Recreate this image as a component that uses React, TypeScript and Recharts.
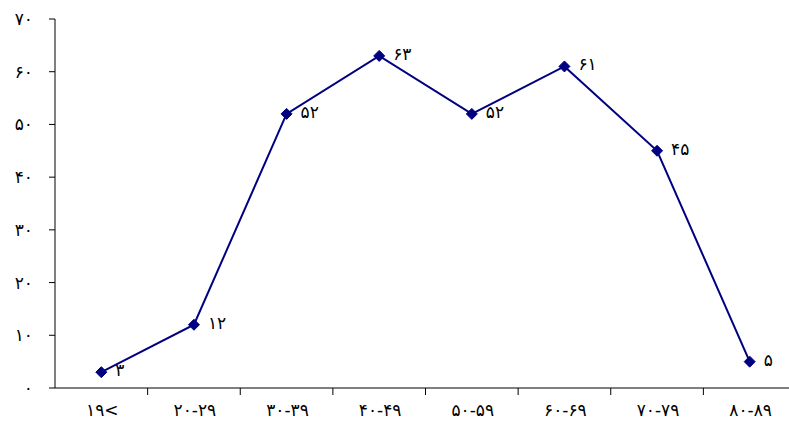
import React from "react";
import { LineChart, Line, XAxis, YAxis, LabelList } from "recharts";

const categories = ["۱۹<", "۲۰-۲۹", "۳۰-۳۹", "۴۰-۴۹", "۵۰-۵۹", "۶۰-۶۹", "۷۰-۷۹", "۸۰-۸۹"];
const values = [3, 12, 52, 63, 52, 61, 45, 5];
const yTicks = [0, 10, 20, 30, 40, 50, 60, 70];

const data = categories.map((c, i) => ({ name: c, value: values[i] }));

const toFa = (n: number | string) =>
  String(n).replace(/[0-9]/g, (d) => String.fromCharCode(0x06f0 + Number(d)));

const FONT = "'DejaVu Sans', sans-serif";
const FS = 17;
const WIDTH = 789;
const HEIGHT = 425;
const LEFT = 55;
const RIGHT = -7;
const BAND = (WIDTH - LEFT - RIGHT) / categories.length;
const X_TICK_SIZE = 7;
const X_TICK_MARGIN = 9;

const XTick = (props: any) => {
  const { x, y, payload } = props;
  const axisY = y - X_TICK_SIZE - X_TICK_MARGIN;
  const lx = x + BAND / 2;
  return (
    <g>
      <line x1={lx} x2={lx} y1={axisY} y2={axisY + X_TICK_SIZE} stroke="#000" strokeWidth={1} />
      <text
        x={x + 1}
        y={y}
        dy="0.71em"
        textAnchor="middle"
        fontSize={FS}
        fontFamily={FONT}
        letterSpacing={2}
        fill="#000"
      >
        {payload.value}
      </text>
    </g>
  );
};

const Diamond = (props: any) => {
  const { cx, cy } = props;
  if (cx == null || cy == null) return null;
  const r = 5.5;
  return (
    <path
      d={`M${cx},${cy - r}L${cx + r},${cy}L${cx},${cy + r}L${cx - r},${cy}Z`}
      fill="#000080"
      stroke="#000080"
    />
  );
};

const PointLabel = (props: any) => {
  const { x, y, value } = props;
  return (
    <text
      x={x + 14}
      y={y - 2}
      dy="0.35em"
      textAnchor="start"
      fontSize={FS}
      fontFamily={FONT}
      letterSpacing={2}
      fill="#000"
    >
      {toFa(value)}
    </text>
  );
};

export default function App() {
  return (
    <div style={{ position: "absolute", left: 0, top: 0, background: "#fff" }}>
      <LineChart
        width={WIDTH}
        height={HEIGHT}
        data={data}
        margin={{ top: 19, right: RIGHT, bottom: 7, left: 0 }}
      >
        <XAxis
          dataKey="name"
          height={30}
          padding={{ left: BAND / 2, right: BAND / 2 }}
          tickLine={false}
          tickSize={X_TICK_SIZE}
          tickMargin={X_TICK_MARGIN}
          tick={<XTick />}
          axisLine={{ stroke: "#000" }}
          interval={0}
        />
        <YAxis
          width={LEFT}
          domain={[0, 70]}
          ticks={yTicks}
          interval={0}
          tickSize={6}
          tickMargin={16}
          tickFormatter={(v: number) => toFa(v)}
          tick={{ fontSize: FS, fontFamily: FONT, fill: "#000", letterSpacing: 2 }}
          axisLine={{ stroke: "#000" }}
          tickLine={{ stroke: "#000" }}
        />
        <Line
          type="linear"
          dataKey="value"
          stroke="#000080"
          strokeWidth={2}
          dot={<Diamond />}
          activeDot={false}
          isAnimationActive={false}
        >
          <LabelList dataKey="value" content={<PointLabel />} />
        </Line>
      </LineChart>
    </div>
  );
}
